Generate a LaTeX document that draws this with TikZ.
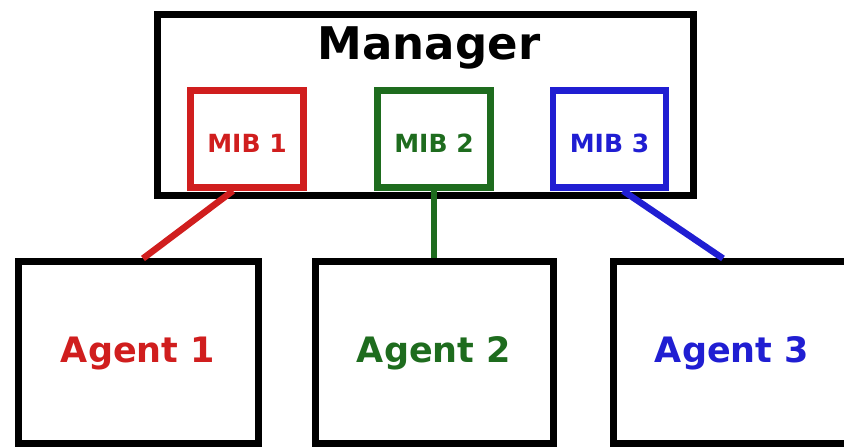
\documentclass[tikz,border=0pt]{standalone}
\usepackage{fontspec}
\setmainfont{DejaVu Sans}
\begin{document}
\definecolor{mibred}{RGB}{208,30,30}
\definecolor{mibgreen}{RGB}{30,108,30}
\definecolor{mibblue}{RGB}{32,30,210}
\begin{tikzpicture}[x=1pt,y=1pt,
  box/.style={draw=black, line width=7pt, inner sep=0pt},
  mib/.style={draw=#1, text=#1, line width=6.5pt, inner sep=0pt,
    minimum width=113pt, minimum height=97pt,
    font=\fontsize{25}{28}\selectfont\bfseries, text height=28pt, text depth=0pt},
  agent/.style={box, text=#1, minimum width=238pt, minimum height=182pt,
    font=\fontsize{35}{40}\selectfont\bfseries, text height=20pt, text depth=0pt},
  link/.style={draw=#1, line width=6.5pt}]
  \useasboundingbox (0,0) rectangle (844,447);
  \clip (0,0) rectangle (844,447);

  % manager with its three MIBs
  \node[box, minimum width=536pt, minimum height=181pt] (manager) at (425,341.5) {};
  \node[anchor=base, font=\fontsize{45}{50}\selectfont\bfseries] (mgrtitle) at (429,387) {Manager};
  \node[mib=mibred]   (mib1) at (247,308) {MIB 1};
  \node[mib=mibgreen] (mib2) at (434,308) {MIB 2};
  \node[mib=mibblue]  (mib3) at (609.5,308) {MIB 3};

  % agents
  \node[agent=mibred, minimum width=240pt] (agent1) at (138,94) {Agent 1};
  \node[agent=mibgreen] (agent2) at (434,94) {Agent 2};
  \node[agent=mibblue]  (agent3) at (732,94) {Agent 3};

  % links between MIBs and agents
  \draw[link=mibred]   ([xshift=-14pt]mib1.south) -- ([xshift=5pt]agent1.north);
  \draw[link=mibgreen] (mib2.south) -- (agent2.north);
  \draw[link=mibblue]  ([xshift=13.5pt]mib3.south) -- ([xshift=-9pt]agent3.north);
\end{tikzpicture}
\end{document}
